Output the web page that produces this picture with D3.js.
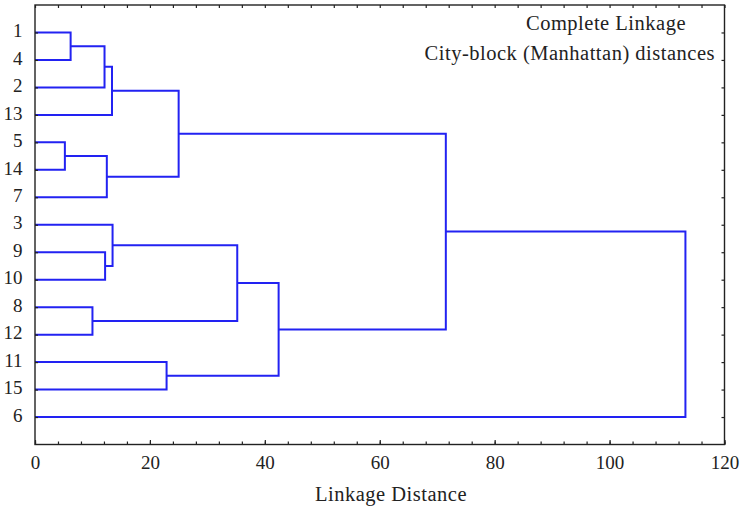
<!DOCTYPE html>
<html>
<head>
<meta charset="utf-8">
<script src="https://cdn.jsdelivr.net/npm/d3@7"></script>
<style>
  body { margin: 0; background: #fff; }
  svg { display: block; font-family: "Liberation Serif", "Times New Roman", serif; }
  .axis text { font-size: 19px; fill: #222; font-family: "Liberation Serif", serif; }
  .axis line { stroke: #222; stroke-width: 1.2; }
  .axis path { display: none; }
  .title { font-size: 20.5px; letter-spacing: 0.5px; fill: #222; }
</style>
</head>
<body>
<svg id="chart"></svg>
<script>
// Leaves, top to bottom
const leafLabels = ['1', '4', '2', '13', '5', '14', '7', '3', '9', '10', '8', '12', '11', '15', '6'];

// Merges: left child, right child, linkage distance (m0, m1, ... in order)
const mergeLeft = ['1', 'm0', 'm1', '5', 'm3', 'm2', '9', '3', '8', 'm7', '11', 'm9', 'm5', 'm12'];
const mergeRight = ['4', '2', '13', '14', '7', 'm4', '10', 'm6', '12', 'm8', '15', 'm10', 'm11', '6'];
const mergeHeight = [6.2, 12.1, 13.4, 5.2, 12.5, 25.0, 12.2, 13.5, 10.0, 35.2, 22.9, 42.4, 71.5, 113.2];

// Axis ticks
const xMajorTicks = [0, 20, 40, 60, 80, 100, 120];
const xMinorTicks = d3.range(0, 121, 4);

const titleLines = ['Complete Linkage', 'City-block (Manhattan) distances'];
const xAxisTitle = 'Linkage Distance';

const w = 742;
const h = 511;
const plotLeft = 35, plotRight = 724.5, plotTop = 5, plotBottom = 444.5;
const lineColor = '#2222f2';

const svg = d3.select('#chart')
  .attr('width', w)
  .attr('height', h);

const xScale = d3.scaleLinear()
  .domain([0, 120])
  .range([plotLeft, plotRight]);

const yScale = d3.scaleLinear()
  .domain([0, leafLabels.length + 1])
  .range([plotTop, plotBottom]);

// node positions: leaves at height 0, merges at midpoint of children
const nodes = {};
leafLabels.forEach((l, i) => { nodes[l] = { y: i + 1, hgt: 0 }; });
mergeHeight.forEach((hh, i) => {
  const a = nodes[mergeLeft[i]];
  const b = nodes[mergeRight[i]];
  nodes['m' + i] = { y: (a.y + b.y) / 2, hgt: hh, a: a, b: b };
});

// Links
svg.append('g')
  .selectAll('path')
  .data(mergeHeight.map((d, i) => nodes['m' + i]))
  .enter()
  .append('path')
  .attr('d', d => `M${xScale(d.a.hgt)},${yScale(d.a.y)}H${xScale(d.hgt)}V${yScale(d.b.y)}H${xScale(d.b.hgt)}`)
  .attr('fill', 'none')
  .attr('stroke', lineColor)
  .attr('stroke-width', 2);

// Axes - ticks point inward
const leafPos = leafLabels.map((l, i) => i + 1);

svg.append('g')
  .attr('class', 'axis')
  .attr('transform', `translate(0,${plotBottom})`)
  .call(d3.axisBottom(xScale).tickValues(xMinorTicks).tickSize(-3).tickFormat(''));

svg.append('g')
  .attr('class', 'axis')
  .attr('transform', `translate(0,${plotBottom})`)
  .call(d3.axisBottom(xScale).tickValues(xMajorTicks).tickSize(-4.5).tickPadding(11).tickFormat(d3.format('d')));

svg.append('g')
  .attr('class', 'axis')
  .attr('transform', `translate(0,${plotTop})`)
  .call(d3.axisTop(xScale).tickValues(xMinorTicks).tickSize(-3).tickFormat(''));

svg.append('g')
  .attr('class', 'axis')
  .attr('transform', `translate(${plotLeft},0)`)
  .call(d3.axisLeft(yScale).tickValues(leafPos).tickSize(-3).tickPadding(12.5)
    .tickFormat(d => leafLabels[d - 1]))
  .selectAll('text')
  .attr('dy', '0.22em');

svg.append('g')
  .attr('class', 'axis')
  .attr('transform', `translate(${plotRight},0)`)
  .call(d3.axisRight(yScale).tickValues(leafPos).tickSize(-3).tickFormat(''));

// Frame
svg.append('rect')
  .attr('x', plotLeft)
  .attr('y', plotTop)
  .attr('width', plotRight - plotLeft)
  .attr('height', plotBottom - plotTop)
  .attr('fill', 'none')
  .attr('stroke', '#222')
  .attr('stroke-width', 1.4);

// Titles
svg.append('text')
  .attr('class', 'title')
  .attr('x', 686)
  .attr('y', 30)
  .attr('text-anchor', 'end')
  .text(titleLines[0]);

svg.append('text')
  .attr('class', 'title')
  .attr('x', 715)
  .attr('y', 60)
  .attr('text-anchor', 'end')
  .text(titleLines[1]);

svg.append('text')
  .attr('class', 'title')
  .attr('x', 391)
  .attr('y', 501)
  .attr('text-anchor', 'middle')
  .text(xAxisTitle);
</script>
</body>
</html>
